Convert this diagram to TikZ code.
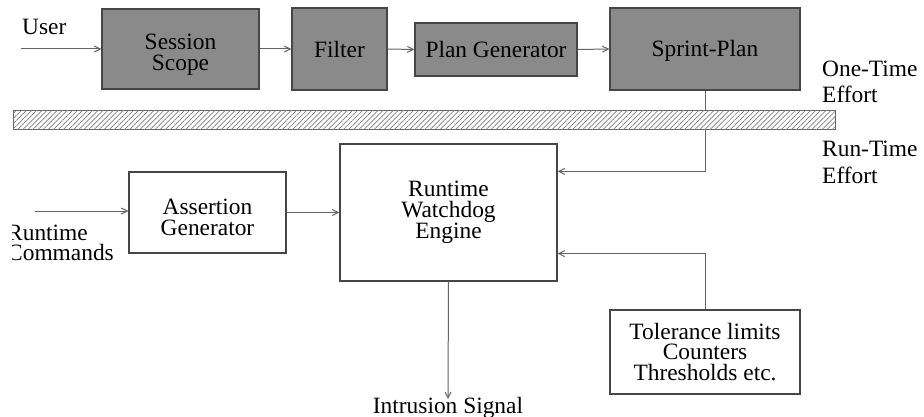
\documentclass[tikz,border=0pt]{standalone}
\usepackage{fontspec}
\setmainfont{Liberation Serif}
\newfontfamily\figfont{Liberation Serif}
\usetikzlibrary{arrows.meta,patterns.meta}
\definecolor{boxfill}{RGB}{138,138,138}
\definecolor{edge}{RGB}{70,70,70}
\definecolor{wire}{RGB}{100,100,100}
\begin{document}
\begin{tikzpicture}[x=1pt,y=-1pt,
  every node/.style={font=\figfont\fontsize{23.4}{20.5}\selectfont, text=black},
  darkbox/.style={draw=edge, fill=boxfill, line width=1.2pt, align=center, inner sep=0pt},
  whitebox/.style={draw=edge, fill=white, line width=1.2pt, align=center, inner sep=0pt},
  arr/.style={draw=wire, line width=1pt, -{Straight Barb[length=6pt,width=6pt]}},
  label/.style={inner sep=0pt, align=left}
]
\useasboundingbox (0,0) rectangle (924,417);
\fill[white] (0,0) rectangle (924,417);

% top row
\node[darkbox, minimum width=157pt, minimum height=80pt] (ss) at (180.5,49) {\rule{0pt}{27pt}Session\\Scope};
\node[darkbox, minimum width=95pt, minimum height=82pt] (filter) at (339.5,49) {Filter};
\node[darkbox, minimum width=162pt, minimum height=53pt] (pg) at (496,49.5) {Plan Generator};
\node[darkbox, minimum width=190pt, minimum height=82pt] (sp) at (705,49) {\rule{0pt}{20pt}Sprint-Plan};

\node[label, anchor=base west] (user) at (22,35) {User};
\coordinate (userin) at (21,49);

\draw[arr] (userin) -- (ss.west);
\draw[arr] (ss.east) -- (filter.west);
\draw[arr] (filter.east) -- (pg.west);
\draw[arr] (pg.east) -- (sp.west);

% lower part
\node[whitebox, minimum width=157pt, minimum height=81pt] (ag) at (207.5,212.5) {\rule{0pt}{25pt}Assertion\\Generator};
\node[whitebox, minimum width=217pt, minimum height=137pt] (engine) at (448.5,212.5) {Runtime\\Watchdog\\Engine};
\node[whitebox, minimum width=190pt, minimum height=84pt] (tol) at (705,352) {Tolerance limits\\Counters\\Thresholds etc.};

\draw[arr] (sp.south) |- ([yshift=-28pt]engine.north east);
\draw[arr] (tol.north) |- ([yshift=28pt]engine.south east);
\draw[arr] (ag.east) -- (ag.east -| engine.west);

\coordinate (rcin) at (35,211);
\draw[arr] (rcin) -- (ag.west |- rcin);

\begin{scope}
  \clip (12,0) rectangle (924,417);
  \node[label, anchor=base west] (rc1) at (7,240) {Runtime};
  \node[label, anchor=base west] (rc2) at (7,260) {Commands};
\end{scope}

\node[label, anchor=base] (intr) at (448,413) {Intrusion Signal};
\coordinate (intrtip) at (448,399);
\draw[arr] (engine.south) -- (intrtip);

% hatched separator bar
\node[draw=wire, line width=1pt, inner sep=0pt, minimum width=822pt, minimum height=19pt,
  fill=white, postaction={pattern={Lines[angle=45,distance=3.6pt,line width=0.7pt]}, pattern color=gray}] (bar) at (424,120.5) {};

\node[label, anchor=base west] (ot1) at (822,77) {One-Time};
\node[label, anchor=base west] (ot2) at (822,103) {Effort};
\node[label, anchor=base west] (rt1) at (822,157) {Run-Time};
\node[label, anchor=base west] (rt2) at (822,183) {Effort};
\end{tikzpicture}
\end{document}
